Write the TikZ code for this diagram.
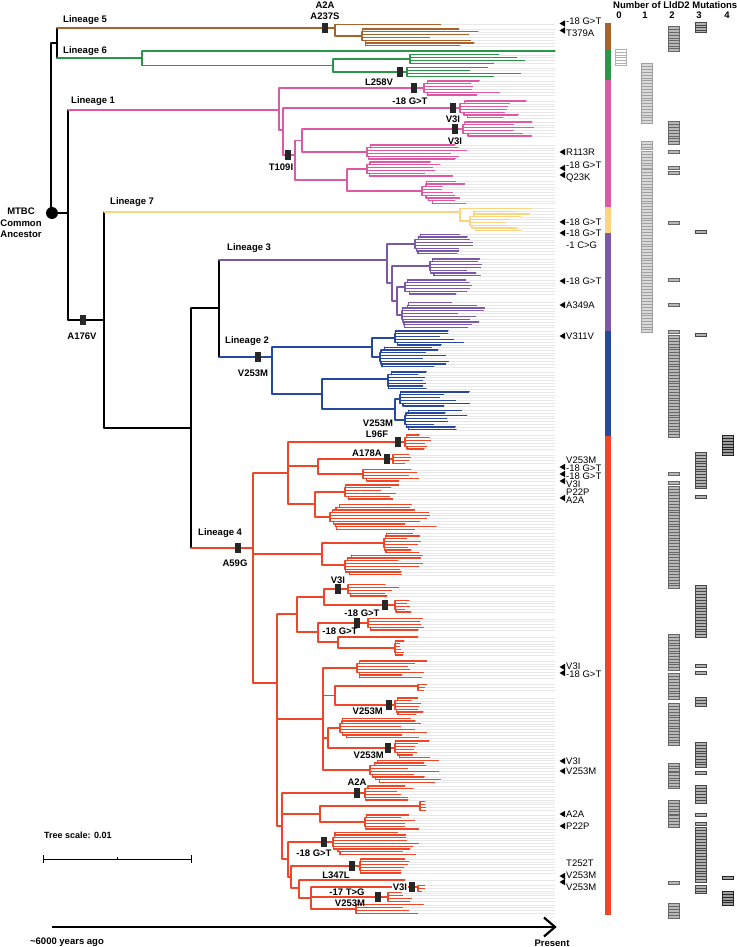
\documentclass[tikz,border=0pt]{standalone}
\usepackage{fontspec}
\setmainfont{Liberation Sans}
\definecolor{cBrown}{RGB}{168,98,42}
\definecolor{cGreen}{RGB}{42,150,72}
\definecolor{cMag}{RGB}{222,88,164}
\definecolor{cYel}{RGB}{252,212,128}
\definecolor{cPur}{RGB}{124,88,170}
\definecolor{cBlu}{RGB}{38,72,160}
\definecolor{cRed}{RGB}{240,70,40}
\tikzset{
  tl/.style={line width=1.2pt, line cap=round},
  c5/.style={tl, draw=cBrown}, c6/.style={tl, draw=cGreen}, c1/.style={tl, draw=cMag},
  c7/.style={tl, draw=cYel}, c3/.style={tl, draw=cPur}, c2/.style={tl, draw=cBlu},
  c4/.style={tl, draw=cRed}, ck/.style={tl, line width=1.2pt, draw=black},
  lead/.style={draw=gray!18, line width=0.35pt},
  blab/.style={font=\fontsize{9.5}{11.3}\selectfont\bfseries, inner sep=0pt},
  rlab/.style={font=\fontsize{9.5}{11}\selectfont, inner sep=0pt, anchor=west},
}
\def\sp{2.8}
\def\xend{555}
\newcommand\hbr[4]{\draw[#1] (#2,#3) -- (#4,#3);}
\newcommand\vbr[4]{\draw[#1] (#2,#3) -- (#2,#4);}
\newcommand\lf[4]{\draw[#1] (#2,#3) -- (#4,#3); \draw[lead] (#4,#3) -- (\xend,#3);}
% ladder: col, x, y, dir, n, step, tmin, tmax
\newcommand\lad[8]{%
  \xdef\lx{#2}\xdef\px{#2}%
  \foreach \i in {1,...,#5}{%
    \pgfmathsetmacro\yy{#3+(#4)*(\i-1)*\sp}%
    \pgfmathsetmacro\tp{max(#7+rnd*(#8-#7),\lx+4)}%
    \draw[#1] (\px,\yy) -- (\tp,\yy);
    \draw[lead] (\tp,\yy) -- (\xend,\yy);
    \ifnum\i<#5\relax
      \pgfmathsetmacro\yn{#3+(#4)*\i*\sp}%
      \draw[#1] (\lx,\yy) -- (\lx,\yn);
      \pgfmathsetmacro\nx{\lx+rnd*#6}%
      \xdef\px{\lx}\xdef\lx{\nx}%
    \fi
  }%
}
% balanced clade: col, xparent, xnode, ymid, n, step, tmin, tmax
\newcommand\bclade[8]{%
  \draw[#1] (#2,#4) -- (#3,#4);
  \pgfmathtruncatemacro\nup{floor((#5)/2)}%
  \pgfmathtruncatemacro\ndn{#5-\nup}%
  \pgfmathsetmacro\yu{#4-\sp/2}%
  \pgfmathsetmacro\yd{#4+\sp/2}%
  \draw[#1] (#3,\yu) -- (#3,\yd);
  \lad{#1}{#3}{\yu}{-1}{\nup}{#6}{#7}{#8}%
  \lad{#1}{#3}{\yd}{1}{\ndn}{#6}{#7}{#8}%
}
\newcommand\mut[2]{\fill[black!85] (#1-2.8,#2-5) rectangle (#1+2.8,#2+5);}
\newcommand\tri[1]{\fill[black] (565,#1-3.2) -- (559.5,#1) -- (565,#1+3.2) -- cycle;}
\newcommand\lbar[5]{%
  \pgfmathsetmacro\ya{#2-1.4}%
  \pgfmathsetmacro\yb{#3+1.4}%
  \pgfmathtruncatemacro\kk{max(1,round((#3-#2)/2.8)+1)}%
  \fill[#4] (#1-5.5,\ya) rectangle (#1+5.5,\yb);
  \foreach \k in {0,...,\kk}{%
    \pgfmathsetmacro\yk{\ya+\k*(\yb-\ya)/\kk}%
    \draw[#5,line width=0.5pt] (#1-5.5,\yk) -- (#1+5.5,\yk);
  }%
  \draw[#5,line width=0.5pt] (#1-5.5,\ya) rectangle (#1+5.5,\yb);
}
\begin{document}
\begin{tikzpicture}[x=1pt,y=-1pt]
\useasboundingbox (0,0) rectangle (736,947);
\fill[white] (0,0) rectangle (736,947);
\pgfmathsetseed{4711}

% ---------- black backbone ----------
\vbr{ck}{51}{43}{213}
\hbr{ck}{51}{43}{57}
\vbr{ck}{57}{28}{58}
\hbr{ck}{52}{213}{68}
\vbr{ck}{68}{110}{320}
\hbr{ck}{68}{320}{104}
\vbr{ck}{104}{212}{428}
\hbr{ck}{104}{428}{191}
\vbr{ck}{191}{308}{548}
\hbr{ck}{191}{308}{219}
\vbr{ck}{219}{260}{357}
\fill[black] (52,213) circle (6);

% ---------- Lineage 5 ----------
\hbr{c5}{57}{28}{335}
\vbr{c5}{335}{24.5}{36}
\lf{c5}{335}{24.5}{441}
\bclade{c5}{335}{362}{36}{7}{5}{420}{480}

% ---------- Lineage 6 ----------
\hbr{c6}{57}{58}{142}
\vbr{c6}{142}{51}{65.5}
\lf{c6}{142}{51}{555}
\hbr{c6}{142}{65.5}{333}
\vbr{c6}{333}{59}{72}
\bclade{c6}{333}{410}{59}{4}{8}{470}{532}
\bclade{c6}{333}{407}{72}{4}{6}{470}{525}

% ---------- Lineage 1 ----------
\hbr{c1}{68}{110}{279}
\vbr{c1}{279}{88}{130}
\bclade{c1}{279}{424}{88}{6}{4}{470}{500}
\hbr{c1}{279}{130}{283}
\vbr{c1}{283}{108}{155}
\bclade{c1}{283}{460}{108}{7}{5}{495}{530}
\hbr{c1}{283}{155}{295}
\vbr{c1}{295}{140.5}{180}
\hbr{c1}{295}{140.5}{302}
\vbr{c1}{302}{129}{152}
\bclade{c1}{302}{463}{129}{6}{5}{505}{535}
\bclade{c1}{302}{367}{152}{6}{4}{440}{470}
\hbr{c1}{295}{180}{347}
\vbr{c1}{347}{169}{191}
\bclade{c1}{347}{367}{169}{6}{5}{420}{455}
\bclade{c1}{347}{422}{191}{9}{5}{440}{470}

% ---------- Lineage 7 ----------
\hbr{c7}{104}{212}{460}
\vbr{c7}{460}{208.4}{221}
\lf{c7}{460}{208.4}{532}
\bclade{c7}{460}{470}{221}{8}{8}{505}{553}

% ---------- Lineage 3 ----------
\hbr{c3}{219}{260}{387}
\vbr{c3}{387}{244}{283}
\bclade{c3}{387}{415}{244}{8}{4}{455}{475}
\hbr{c3}{387}{283}{392}
\vbr{c3}{392}{266}{301}
\bclade{c3}{392}{430}{266}{7}{4}{465}{482}
\hbr{c3}{392}{301}{397}
\vbr{c3}{397}{287}{315}
\bclade{c3}{397}{405}{287}{6}{5}{450}{475}
\bclade{c3}{397}{402}{315}{10}{5}{450}{490}

% ---------- Lineage 2 ----------
\hbr{c2}{219}{357}{272}
\vbr{c2}{272}{347}{394}
\hbr{c2}{272}{347}{372}
\vbr{c2}{372}{338}{357}
\bclade{c2}{372}{395}{338}{6}{4}{440}{465}
\bclade{c2}{372}{380}{357}{8}{4}{420}{450}
\hbr{c2}{272}{394}{322}
\vbr{c2}{322}{379}{409}
\bclade{c2}{322}{388}{379}{7}{4}{415}{445}
\hbr{c2}{322}{409}{395}
\vbr{c2}{395}{399}{420}
\bclade{c2}{395}{400}{399}{6}{4}{440}{470}
\bclade{c2}{395}{405}{420}{8}{4}{430}{470}

% ---------- Lineage 4 ----------
\hbr{c4}{191}{548}{253}
\vbr{c4}{253}{473}{683}
\hbr{c4}{253}{473}{288}
\vbr{c4}{288}{442}{504}
\bclade{c4}{288}{405}{442}{6}{3}{418}{432}
\hbr{c4}{288}{466}{318}
\vbr{c4}{318}{459}{474}
\bclade{c4}{318}{393}{459}{4}{2}{403}{412}
\bclade{c4}{318}{363}{474}{5}{4}{395}{420}
\hbr{c4}{288}{504}{315}
\vbr{c4}{315}{492}{517}
\bclade{c4}{315}{345}{492}{6}{4}{380}{400}
\bclade{c4}{315}{330}{517}{10}{5}{395}{440}
\hbr{c4}{253}{554}{322}
\vbr{c4}{322}{543}{565}
\bclade{c4}{322}{384}{543}{8}{2}{405}{425}
\bclade{c4}{322}{345}{565}{8}{4}{395}{425}
\hbr{c4}{253}{683}{277}
\vbr{c4}{277}{614}{826}
% N7
\hbr{c4}{277}{614}{297}
\vbr{c4}{297}{597}{632}
\hbr{c4}{297}{597}{324}
\vbr{c4}{324}{589}{605}
\bclade{c4}{324}{348}{589}{5}{4}{385}{400}
\bclade{c4}{324}{395}{605}{5}{2}{403}{412}
\hbr{c4}{297}{632}{318}
\vbr{c4}{318}{623}{642}
\bclade{c4}{318}{368}{623}{5}{3}{415}{428}
\hbr{c4}{318}{642}{338}
\vbr{c4}{338}{637}{648}
\lf{c4}{338}{637}{418}
\bclade{c4}{338}{395}{648}{6}{1}{398}{405}
% N8
\hbr{c4}{277}{719}{323}
\vbr{c4}{323}{668}{770}
\bclade{c4}{323}{357}{668}{7}{3}{400}{430}
\hbr{c4}{323}{695.5}{335}
\vbr{c4}{335}{686}{705}
\bclade{c4}{335}{418}{686}{3}{1}{420}{428}
\bclade{c4}{335}{395}{705}{7}{3}{410}{430}
\hbr{c4}{323}{738}{328}
\vbr{c4}{328}{728}{748}
\bclade{c4}{328}{340}{728}{8}{4}{395}{430}
\bclade{c4}{328}{395}{748}{7}{3}{410}{430}
\bclade{c4}{323}{370}{770}{9}{5}{405}{445}
% N9
\hbr{c4}{277}{826}{282}
\vbr{c4}{282}{793}{859}
\bclade{c4}{282}{365}{793}{6}{3}{390}{415}
\hbr{c4}{282}{814}{320}
\vbr{c4}{320}{806}{822}
\bclade{c4}{320}{420}{806}{4}{1}{422}{428}
\bclade{c4}{320}{365}{822}{6}{3}{400}{420}
\hbr{c4}{282}{859}{288}
\vbr{c4}{288}{842}{877}
\bclade{c4}{288}{333}{842}{9}{5}{390}{420}
\hbr{c4}{288}{877}{291}
\vbr{c4}{291}{866}{888}
\bclade{c4}{291}{360}{866}{6}{3}{400}{412}
\hbr{c4}{291}{888}{299}
\vbr{c4}{299}{880}{898}
\lf{c4}{299}{880}{405}
\hbr{c4}{299}{898}{311}
\vbr{c4}{311}{887}{909}
\bclade{c4}{311}{418}{887}{3}{1}{421}{426}
\bclade{c4}{311}{388}{897}{4}{2}{400}{415}
\bclade{c4}{311}{356}{909}{4}{6}{395}{425}

% ---------- mutation boxes ----------
\mut{325}{28}\mut{400}{72}\mut{414}{88}\mut{453}{108}\mut{455}{129}\mut{288}{155}
\mut{83}{320}\mut{258}{357}\mut{238}{548}\mut{398}{442}\mut{387}{459}
\mut{338}{589}\mut{385}{605}\mut{357}{623}\mut{389}{705}\mut{388}{748}
\mut{357}{793}\mut{324}{842}\mut{352}{866}\mut{378}{897}\mut{412}{887}

% ---------- lineage labels ----------
\node[blab,anchor=west] at (63,20) {Lineage 5};
\node[blab,anchor=west] at (63,51) {Lineage 6};
\node[blab,anchor=west] at (71,101) {Lineage 1};
\node[blab,anchor=west] at (110,202) {Lineage 7};
\node[blab,anchor=west] at (227,248) {Lineage 3};
\node[blab,anchor=west] at (225,341) {Lineage 2};
\node[blab,anchor=west] at (198,533) {Lineage 4};
\node[blab,align=center] at (21,223) {MTBC\\Common\\Ancestor};

% ---------- mutation labels ----------
\node[blab] at (325,5) {A2A};
\node[blab] at (325,16) {A237S};
\node[blab] at (379,82) {L258V};
\node[blab] at (410,101) {-18 G>T};
\node[blab] at (453,119) {V3I};
\node[blab] at (455,141) {V3I};
\node[blab] at (281,167) {T109I};
\node[blab] at (82,336) {A176V};
\node[blab] at (253,373) {V253M};
\node[blab] at (235,563) {A59G};
\node[blab] at (378,423) {V253M};
\node[blab] at (377,434) {L96F};
\node[blab] at (367,453) {A178A};
\node[blab] at (338,580) {V3I};
\node[blab] at (362,613) {-18 G>T};
\node[blab] at (340,631) {-18 G>T};
\node[blab,anchor=east] at (383,711) {V253M};
\node[blab,anchor=east] at (384,755) {V253M};
\node[blab] at (357,782) {A2A};
\node[blab] at (314,853) {-18 G>T};
\node[blab] at (336,875) {L347L};
\node[blab] at (347,892) {-17 T>G};
\node[blab] at (350,903) {V253M};
\node[blab,fill=white,inner sep=0.6pt] at (400,887) {V3I};

% ---------- right-side annotations ----------
\foreach \y in {23.5,30.5,152,168,175,222,233,281,305,336,467,474,481,498,667,673,761,771,814,826,876,882}{\tri{\y}}
\node[rlab] at (566,21) {-18 G>T};
\node[rlab] at (566,33) {T379A};
\node[rlab] at (566,152) {R113R};
\node[rlab] at (566,165) {-18 G>T};
\node[rlab] at (566,178) {Q23K};
\node[rlab] at (566,222) {-18 G>T};
\node[rlab] at (566,233) {-18 G>T};
\node[rlab] at (566,245) {-1 C>G};
\node[rlab] at (566,281) {-18 G>T};
\node[rlab] at (566,305) {A349A};
\node[rlab] at (566,336) {V311V};
\node[rlab] at (566,460) {V253M};
\node[rlab] at (566,468) {-18 G>T};
\node[rlab] at (566,476) {-18 G>T};
\node[rlab] at (566,484) {V3I};
\node[rlab] at (566,492) {P22P};
\node[rlab] at (566,500) {A2A};
\node[rlab] at (566,666) {V3I};
\node[rlab] at (566,674) {-18 G>T};
\node[rlab] at (566,761) {V3I};
\node[rlab] at (566,771) {V253M};
\node[rlab] at (566,814) {A2A};
\node[rlab] at (566,826) {P22P};
\node[rlab] at (566,863) {T252T};
\node[rlab] at (566,875) {V253M};
\node[rlab] at (566,887) {V253M};

% ---------- lineage colour bar ----------
\fill[cBrown] (605,23) rectangle (611,50);
\fill[cGreen] (605,50) rectangle (611,80);
\fill[cMag] (605,80) rectangle (611,207);
\fill[cYel] (605,207) rectangle (611,233);
\fill[cPur] (605,233) rectangle (611,331);
\fill[cBlu] (605,331) rectangle (611,436);
\fill[cRed] (605,436) rectangle (611,915);

% ---------- mutation count columns ----------
\node[blab,anchor=west] at (613,5) {Number of LldD2 Mutations};
\node[blab] at (619,15) {0};
\node[blab] at (645,15) {1};
\node[blab] at (672,15) {2};
\node[blab] at (699,15) {3};
\node[blab] at (727,15) {4};
\lbar{620.5}{51}{64}{white}{gray!60}
\foreach \a/\b in {65/122,143/148,153/167,171/174,177/222,225/231,234/279,282/303,306/331}
  {\lbar{646.5}{\a}{\b}{gray!30}{gray!75}}
\foreach \a/\b in {27.5/27.5,31/50,123/143,151.5/151.5,168/168,173/173,223/223,280/280,305/305,332/332,337/436,474/474,483/483,488/497,500/587,636/666,669/669,675/698,705/744,765/772,774/787,802/813,817/823,826/826,883/883,905/917}
  {\lbar{673.5}{\a}{\b}{gray!55}{black!60}}
\foreach \a/\b in {24/31,232/232,335/335,454/473,476/482,485/487,497/497,587/636,666/666,673/673,699/705,744/766,773/773,787/802,815/815,824/824,829/878,881/881,887/892}
  {\lbar{700.5}{\a}{\b}{gray!60}{black!72}}
\foreach \a/\b in {437/454,878/878,893/904}
  {\lbar{728}{\a}{\b}{gray!75}{black!85}}

% ---------- scale and time axis ----------
\node[blab,anchor=west,font=\fontsize{9}{11}\selectfont\bfseries] at (44,835) {Tree scale: 0.01};
\draw[line width=0.8pt] (43,859) -- (191,859);
\draw[line width=0.8pt] (43,855) -- (43,863);
\draw[line width=0.8pt] (191,855) -- (191,863);
\draw[line width=0.6pt] (117,857) -- (117,859);
\draw[line width=2.6pt] (52,927) -- (553,927);
\draw[line width=2.2pt, line join=miter] (544,917.5) -- (555,927) -- (544,936.5);
\node[blab] at (67,942) {\textasciitilde 6000 years ago};
\node[blab] at (552,943) {Present};
\end{tikzpicture}
\end{document}
